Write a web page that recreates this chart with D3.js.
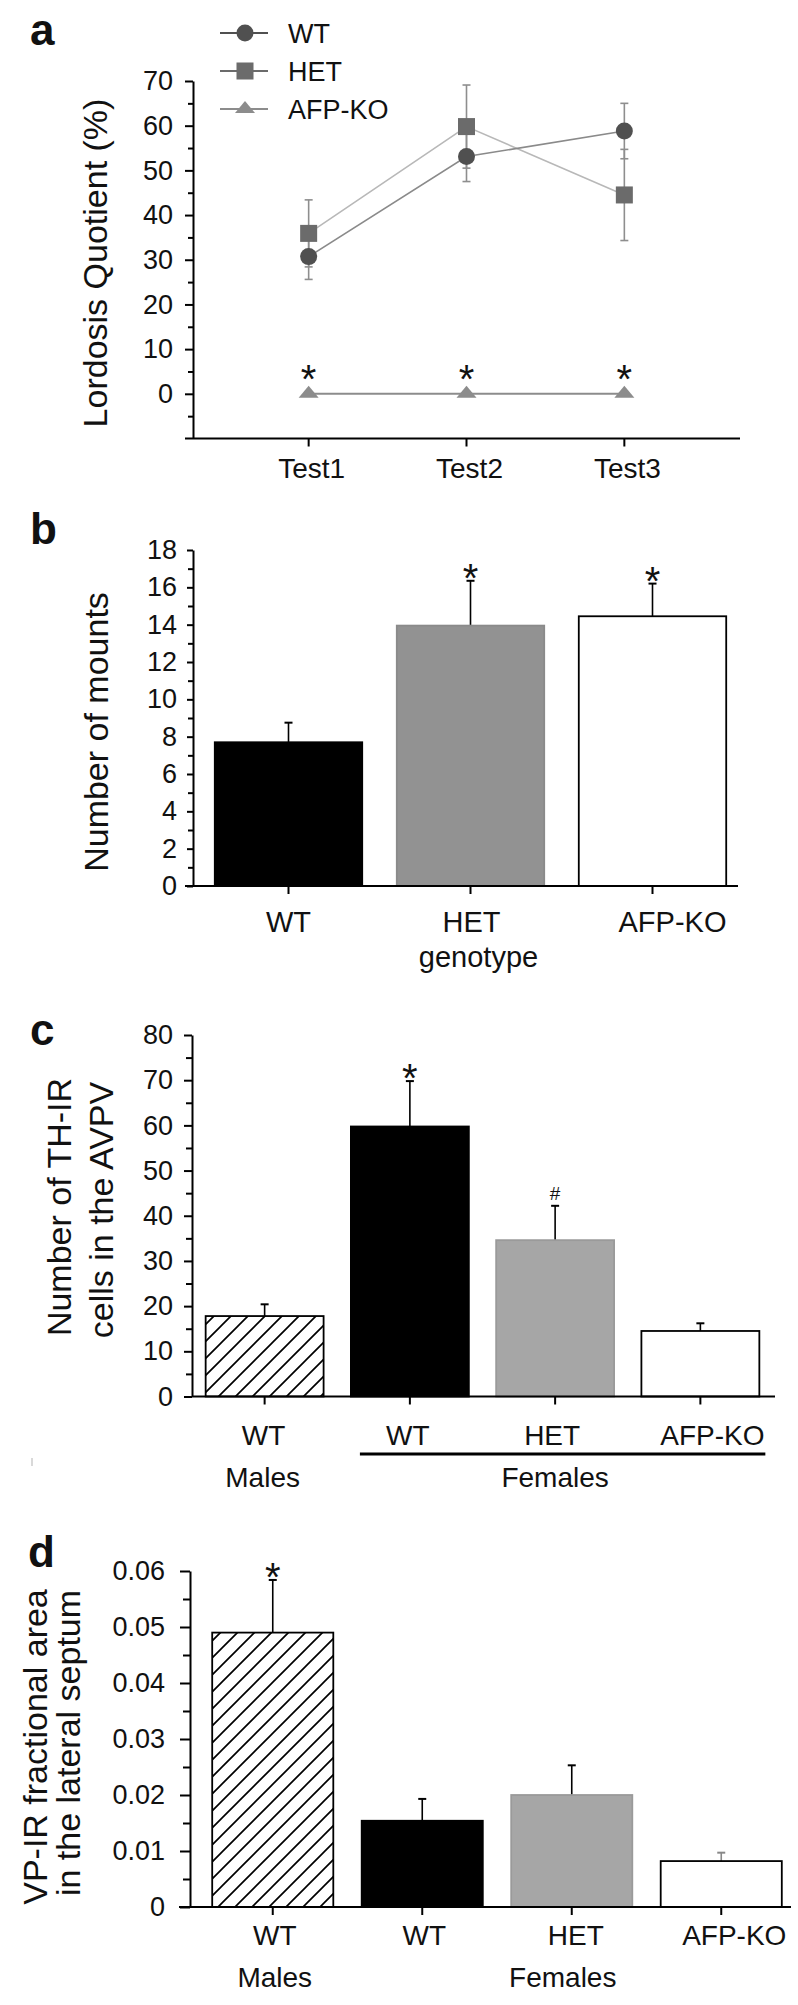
<!DOCTYPE html>
<html><head><meta charset="utf-8">
<script src="https://cdn.jsdelivr.net/npm/d3@7"></script>
<style>
body{margin:0;background:#fff}
svg{display:block}
text{font-family:"Liberation Sans",Arial,Helvetica,sans-serif;fill:#111}
</style>
</head><body>
<svg id="chart" width="798" height="2005"></svg>
<script>
// ---------- data ----------
const testLabels = ["Test1", "Test2", "Test3"];
const lqWT = [30.7, 53.1, 58.8];
const lqWTErr = [5.1, 5.6, 6.2];
const lqHET = [35.9, 59.8, 44.5];
const lqHETErr = [7.5, 9.3, 10.2];
const lqKO = [0, 0, 0];
const lqMajorTicks = [0, 10, 20, 30, 40, 50, 60, 70];
const lqMinorTicks = [-5, 5, 15, 25, 35, 45, 55, 65];
const legendNames = ["WT", "HET", "AFP-KO"];

const mountGroups = ["WT", "HET", "AFP-KO"];
const mountMeans = [7.7, 13.95, 14.45];
const mountErr = [1.05, 2.4, 1.75];
const mountStars = ["", "*", "*"];
const mountMajorTicks = [0, 2, 4, 6, 8, 10, 12, 14, 16, 18];
const mountMinorTicks = [1, 3, 5, 7, 9, 11, 13, 15, 17];

const cellGroups = ["WT", "WT", "HET", "AFP-KO"];
const cellMeans = [17.8, 59.75, 34.6, 14.5];
const cellErr = [2.6, 10.05, 7.6, 1.7];
const cellMarks = ["", "*", "#", ""];
const cellMajorTicks = [0, 10, 20, 30, 40, 50, 60, 70, 80];
const cellMinorTicks = [5, 15, 25, 35, 45, 55, 65, 75];

const vpGroups = ["WT", "WT", "HET", "AFP-KO"];
const vpMeans = [0.0490, 0.0154, 0.0200, 0.0082];
const vpErr = [0.0094, 0.0039, 0.0053, 0.0015];
const vpMarks = ["*", "", "", ""];
const vpMajorTicks = [0, 0.01, 0.02, 0.03, 0.04, 0.05, 0.06];
const vpMinorTicks = [0.005, 0.015, 0.025, 0.035, 0.045, 0.055];

// ---------- setup ----------
const svg = d3.select("#chart");
svg.append("rect").attr("width", 798).attr("height", 2005).attr("fill", "#fff");
const defs = svg.append("defs");
const pat = defs.append("pattern").attr("id", "hatch")
  .attr("patternUnits", "userSpaceOnUse").attr("width", 17).attr("height", 17);
pat.append("rect").attr("width", 17).attr("height", 17).attr("fill", "#fff");
pat.append("path").attr("d", "M-3,3 L3,-3 M0,17 L17,0 M14,20 L20,14")
  .attr("stroke", "#000").attr("stroke-width", 1.7);

const FONT = '"Liberation Sans",Arial,Helvetica,sans-serif';

function panelLetter(t, x, y) {
  svg.append("text").attr("x", x).attr("y", y).attr("font-size", 44)
    .attr("font-weight", "bold").attr("fill", "#000").text(t);
}

function yAxis(y, majors, minors, o) {
  const ga = svg.append("g").attr("transform", `translate(${o.x},0)`)
    .call(d3.axisLeft(y).tickValues(majors).tickSize(o.major).tickPadding(o.pad)
      .tickSizeOuter(0).tickFormat(o.fmt || (d => d)));
  ga.attr("font-family", FONT).attr("font-size", o.fs);
  ga.select(".domain").attr("stroke", "#000").attr("stroke-width", 2);
  ga.selectAll(".tick line").attr("stroke", "#000").attr("stroke-width", 2);
  ga.selectAll(".tick text").attr("fill", "#111").attr("font-size", o.fs);
  const gm = svg.append("g").attr("transform", `translate(${o.x},0)`)
    .call(d3.axisLeft(y).tickValues(minors).tickSize(o.minor).tickFormat(""));
  gm.select(".domain").remove();
  gm.selectAll(".tick line").attr("stroke", "#000").attr("stroke-width", 2);
}

function yLabel(lines, xs, cy, fs) {
  lines.forEach((t, i) => {
    svg.append("text").attr("transform", `translate(${xs[i]},${cy[i]}) rotate(-90)`)
      .attr("text-anchor", "middle").attr("font-size", fs).text(t);
  });
}

// ---------- panel a ----------
panelLetter("a", 30, 45);
const yA = d3.scaleLinear().domain([-10, 70]).range([438.5, 81]);
const xA = d3.scalePoint().domain(testLabels).range([195, 738]).padding(0.72);

yAxis(yA, lqMajorTicks, lqMinorTicks, {x: 193, major: 8, minor: 5, pad: 12, fs: 27});
svg.append("line").attr("x1", 185).attr("x2", 740).attr("y1", yA(-10)).attr("y2", yA(-10))
  .attr("stroke", "#000").attr("stroke-width", 2);
testLabels.forEach(t => {
  svg.append("line").attr("x1", xA(t)).attr("x2", xA(t)).attr("y1", yA(-10)).attr("y2", yA(-10) + 8)
    .attr("stroke", "#000").attr("stroke-width", 2);
  svg.append("text").attr("x", xA(t) + 3).attr("y", 478).attr("text-anchor", "middle")
    .attr("font-size", 28).text(t);
});
yLabel(["Lordosis Quotient (%)"], [107], [263], 34);

const lineA = d3.line().x((d, i) => xA(testLabels[i])).y(d => yA(d));
svg.append("path").datum(lqHET).attr("d", lineA).attr("fill", "none").attr("stroke", "#b8b8b8").attr("stroke-width", 1.6);
svg.append("path").datum(lqWT).attr("d", lineA).attr("fill", "none").attr("stroke", "#8a8a8a").attr("stroke-width", 1.6);
svg.append("path").datum(lqKO).attr("d", lineA).attr("fill", "none").attr("stroke", "#8c8c8c").attr("stroke-width", 2);

function errA(means, errs, color) {
  means.forEach((m, i) => {
    const x = xA(testLabels[i]);
    const g = svg.append("g").attr("stroke", color).attr("stroke-width", 1.6);
    g.append("line").attr("x1", x).attr("x2", x).attr("y1", yA(m - errs[i])).attr("y2", yA(m + errs[i]));
    g.append("line").attr("x1", x - 4).attr("x2", x + 4).attr("y1", yA(m - errs[i])).attr("y2", yA(m - errs[i]));
    g.append("line").attr("x1", x - 4).attr("x2", x + 4).attr("y1", yA(m + errs[i])).attr("y2", yA(m + errs[i]));
  });
}
errA(lqHET, lqHETErr, "#8e8e8e");
errA(lqWT, lqWTErr, "#8e8e8e");

const circ = (g, x, y) => g.append("circle").attr("cx", x).attr("cy", y).attr("r", 8.5).attr("fill", "#505050");
const sq = (g, x, y) => g.append("rect").attr("x", x - 8.5).attr("y", y - 8.5).attr("width", 17).attr("height", 17).attr("fill", "#6b6b6b");
const tri = (g, x, y) => g.append("path").attr("d", `M${x - 10},${y + 4}L${x + 10},${y + 4}L${x},${y - 8}Z`).attr("fill", "#8c8c8c");
const markers = [circ, sq, tri];

lqWT.forEach((v, i) => circ(svg, xA(testLabels[i]), yA(v)));
lqHET.forEach((v, i) => sq(svg, xA(testLabels[i]), yA(v)));
lqKO.forEach((v, i) => {
  tri(svg, xA(testLabels[i]), yA(v));
  svg.append("text").attr("x", xA(testLabels[i])).attr("y", yA(v) - 1).attr("text-anchor", "middle")
    .attr("font-size", 40).text("*");
});

// legend
const legendColors = ["#505050", "#6b6b6b", "#8c8c8c"];
legendNames.forEach((n, i) => {
  const cy = 33 + i * 38;
  svg.append("line").attr("x1", 220).attr("x2", 268).attr("y1", cy).attr("y2", cy)
    .attr("stroke", legendColors[i]).attr("stroke-width", 1.8);
  markers[i](svg, 245, cy);
  svg.append("text").attr("x", 288).attr("y", cy + 10).attr("font-size", 27).text(n);
});

// ---------- bar helper ----------
function bars(x, y, means, errs, fills, strokes, marks, errColors) {
  means.forEach((m, i) => {
    const x0 = x(i), bw = x.bandwidth(), cx = x0 + bw / 2;
    const top = y(m + errs[i]);
    svg.append("line").attr("x1", cx).attr("x2", cx).attr("y1", y(m)).attr("y2", top)
      .attr("stroke", errColors[i]).attr("stroke-width", 1.6);
    svg.append("line").attr("x1", cx - 4).attr("x2", cx + 4).attr("y1", top).attr("y2", top)
      .attr("stroke", errColors[i]).attr("stroke-width", 2);
    svg.append("rect").attr("x", x0).attr("y", y(m)).attr("width", bw).attr("height", y(0) - y(m))
      .attr("fill", fills[i]).attr("stroke", strokes[i]).attr("stroke-width", 1.8);
    if (marks[i] === "*") {
      svg.append("text").attr("x", cx).attr("y", top + 11).attr("text-anchor", "middle")
        .attr("font-size", 40).text("*");
    } else if (marks[i] === "#") {
      svg.append("text").attr("x", cx).attr("y", top - 6).attr("text-anchor", "middle")
        .attr("font-size", 19).text("#");
    }
  });
}
function xAxisBar(x, y0, x1, x2, labels, baseline, fs, shifts) {
  svg.append("line").attr("x1", x1).attr("x2", x2).attr("y1", y0).attr("y2", y0)
    .attr("stroke", "#000").attr("stroke-width", 2);
  labels.forEach((t, i) => {
    const cx = x(i) + x.bandwidth() / 2;
    svg.append("line").attr("x1", cx).attr("x2", cx).attr("y1", y0).attr("y2", y0 + 8)
      .attr("stroke", "#000").attr("stroke-width", 2);
    svg.append("text").attr("x", cx + shifts[i]).attr("y", baseline).attr("text-anchor", "middle")
      .attr("font-size", fs).text(t);
  });
}

// ---------- panel b ----------
panelLetter("b", 30, 544);
const yB = d3.scaleLinear().domain([0, 18]).range([886, 550]);
const xB = d3.scaleBand().domain(d3.range(mountGroups.length)).range([197.5, 743.5])
  .paddingInner(0.19).paddingOuter(0.095);
bars(xB, yB, mountMeans, mountErr, ["#000", "#929292", "#fff"], ["#000", "#8a8a8a", "#000"], mountStars, ["#000", "#000", "#000"]);
yAxis(yB, mountMajorTicks, mountMinorTicks, {x: 193, major: 6, minor: 5, pad: 10, fs: 27});
xAxisBar(xB, yB(0), 185, 738, mountGroups, 932, 29, [0, 1, 20]);
svg.append("text").attr("x", xB(1) + xB.bandwidth() / 2 + 8).attr("y", 967).attr("text-anchor", "middle")
  .attr("font-size", 29).text("genotype");
yLabel(["Number of mounts"], [108], [732], 34);

// ---------- panel c ----------
panelLetter("c", 30, 1045);
const yC = d3.scaleLinear().domain([0, 80]).range([1396.5, 1035]);
const xC = d3.scaleBand().domain(d3.range(cellGroups.length)).range([192, 773])
  .paddingInner(0.188).paddingOuter(0.094);
bars(xC, yC, cellMeans, cellErr, ["url(#hatch)", "#000", "#a6a6a6", "#fff"], ["#000", "#000", "#9a9a9a", "#000"], cellMarks, ["#000", "#000", "#000", "#000"]);
yAxis(yC, cellMajorTicks, cellMinorTicks, {x: 192, major: 8, minor: 6, pad: 11, fs: 27});
xAxisBar(xC, yC(0), 192, 775, cellGroups, 1445, 28, [-1, -2, -3, 12]);
svg.append("line").attr("x1", xC(1) + 9).attr("x2", xC(3) + xC.bandwidth() + 6)
  .attr("y1", 1454).attr("y2", 1454).attr("stroke", "#000").attr("stroke-width", 3);
svg.append("text").attr("x", xC(0) + xC.bandwidth() / 2 - 2).attr("y", 1487).attr("text-anchor", "middle")
  .attr("font-size", 28).text("Males");
svg.append("text").attr("x", xC(2) + xC.bandwidth() / 2).attr("y", 1487).attr("text-anchor", "middle")
  .attr("font-size", 28).text("Females");
yLabel(["Number of TH-IR", "cells in the AVPV"], [71, 113], [1207, 1210], 34);
svg.append("line").attr("x1", 32).attr("x2", 32).attr("y1", 1458).attr("y2", 1466)
  .attr("stroke", "#ccc").attr("stroke-width", 1.5);

// ---------- panel d ----------
panelLetter("d", 28, 1567);
const yD = d3.scaleLinear().domain([0, 0.06]).range([1907, 1571]);
const xD = d3.scaleBand().domain(d3.range(vpGroups.length)).range([198, 796])
  .paddingInner(0.19).paddingOuter(0.095);
bars(xD, yD, vpMeans, vpErr, ["url(#hatch)", "#000", "#a6a6a6", "#fff"], ["#000", "#000", "#9a9a9a", "#000"], vpMarks, ["#000", "#000", "#000", "#888"]);
yAxis(yD, vpMajorTicks, vpMinorTicks, {x: 190, major: 10, minor: 7, pad: 15, fs: 27,
  fmt: d => d === 0 ? "0" : d3.format(".2f")(d)});
xAxisBar(xD, yD(0), 179, 791, vpGroups, 1945, 28, [2, 2, 4, 13]);
svg.append("text").attr("x", xD(0) + xD.bandwidth() / 2 + 2).attr("y", 1987).attr("text-anchor", "middle")
  .attr("font-size", 28).text("Males");
svg.append("text").attr("x", xD(2) + xD.bandwidth() / 2 - 9).attr("y", 1987).attr("text-anchor", "middle")
  .attr("font-size", 28).text("Females");
yLabel(["VP-IR fractional area", "in the lateral septum"], [47, 80], [1747, 1743], 34);
</script>
</body></html>
